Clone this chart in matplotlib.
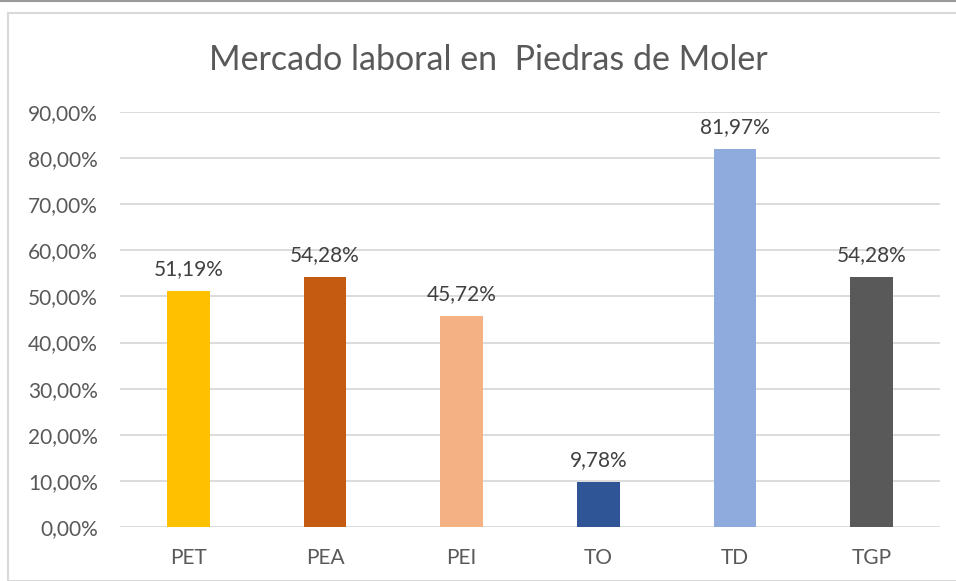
import matplotlib
matplotlib.use("Agg")
import matplotlib.pyplot as plt
from matplotlib.patches import Rectangle
from matplotlib.lines import Line2D
from matplotlib.ticker import FuncFormatter

categorias = ["PET", "PEA", "PEI", "TO", "TD", "TGP"]
valores = [51.19, 54.28, 45.72, 9.78, 81.97, 54.28]
colores = ["#FFC000", "#C55A11", "#F4B183", "#2F5597", "#8FAADC", "#595959"]
ticks_y = [0, 10, 20, 30, 40, 50, 60, 70, 80, 90]

plt.rcParams['font.family'] = ['Lato', 'DejaVu Sans']

fig = plt.figure(figsize=(9.56, 5.81), dpi=100)
W, H = 956, 581

# marco del grafico (estilo Excel)
fig.patches.append(Rectangle((8 / W, 0), 1.0, 1 - 13 / H, transform=fig.transFigure,
                             fill=False, edgecolor="#D9D9D9", linewidth=1.5))
fig.lines.append(Line2D([0, 1], [1 - 1 / H, 1 - 1 / H], transform=fig.transFigure,
                        color="#9A9A9A", linewidth=1.5))

ax = fig.add_axes([120 / W, 54 / H, 820 / W, 415 / H])
x = range(len(categorias))
barras = ax.bar(x, valores, width=0.31, color=colores, zorder=3)

for xi, v in zip(x, valores):
    ax.text(xi, v + 2.6, f"{v:.2f}%".replace(".", ","), ha="center", va="bottom",
            fontsize=15, color="#404040")

ax.set_xlim(-0.5, len(categorias) - 0.5)
ax.set_ylim(0, 90)
ax.set_yticks(ticks_y)
ax.yaxis.set_major_formatter(FuncFormatter(lambda v, p: f"{v:.2f}%".replace(".", ",")))
ax.set_xticks(list(x))
ax.set_xticklabels(categorias)
ax.grid(axis="y", color="#D9D9D9", linewidth=1.3, zorder=0)
for s in ax.spines.values():
    s.set_visible(False)
ax.tick_params(axis="both", length=0, labelsize=15, colors="#595959")
ax.tick_params(axis="y", pad=16)
ax.tick_params(axis="x", pad=15)

fig.text(488 / W, 1 - 60 / H, "Mercado laboral en  Piedras de Moler", ha="center",
         va="center", fontsize=24.5, color="#595959")

fig.savefig("out.png", dpi=100)
